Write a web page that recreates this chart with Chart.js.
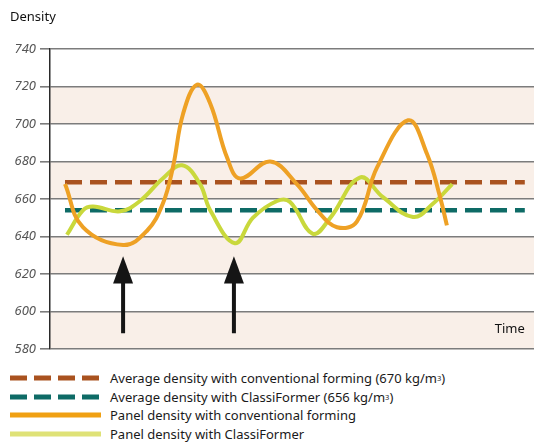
<!DOCTYPE html>
<html>
<head>
<meta charset="utf-8">
<script src="https://cdn.jsdelivr.net/npm/chart.js@4/dist/chart.umd.min.js"></script>
<style>
  html, body { margin: 0; padding: 0; background: #fff; }
  #wrap { position: relative; width: 534px; height: 443px; overflow: hidden; font-family: "Noto Sans", "Open Sans", sans-serif; }
  #chartBox { position: absolute; left: 0; top: 0; width: 534px; height: 361px; }
  #ytitle { position: absolute; left: 10px; top: 7px; font-size: 13px; color: #111; }
  #legend { position: absolute; left: 10px; top: 369px; }
  .row { height: 18.6px; display: flex; align-items: center; font-size: 13px; color: #1a1a1a; white-space: nowrap; }
  .row svg { width: 91px; height: 8px; margin-right: 9px; flex: none; }
  sup { font-size: 7.5px; vertical-align: 5px; }
</style>
</head>
<body>
<div id="wrap">
  <div id="chartBox"><canvas id="c"></canvas></div>
  <div id="ytitle">Density</div>
  <div id="legend">
    <div class="row"><svg><line x1="0" y1="4" x2="91" y2="4" stroke="#a9521f" stroke-width="5" stroke-dasharray="17,7"/></svg>Average density with conventional forming (670 kg/m<sup>3</sup>)</div>
    <div class="row"><svg><line x1="0" y1="4" x2="91" y2="4" stroke="#0e6b66" stroke-width="5" stroke-dasharray="17,7"/></svg>Average density with ClassiFormer (656 kg/m<sup>3</sup>)</div>
    <div class="row"><svg><line x1="0" y1="4" x2="91" y2="4" stroke="#f0a012" stroke-width="5"/></svg>Panel density with conventional forming</div>
    <div class="row"><svg><line x1="0" y1="4" x2="91" y2="4" stroke="#dfe277" stroke-width="5"/></svg>Panel density with ClassiFormer</div>
  </div>
</div>
<script>
// ---- data ----
const yTicks = [580, 600, 620, 640, 660, 680, 700, 720, 740];
const shadedBands = [[700, 720], [660, 680], [620, 640], [580, 600]];

const convTime    = [3.1, 6.8, 15.1, 20.0, 23.3, 25.4, 27.5, 30.4, 33.1, 36.6, 39.3, 45.5, 51.0, 55.2, 59.3, 63.4, 67.6, 74.0, 77.9, 80.6, 82.0];
const convDensity = [668, 645, 635.5, 643, 657.5, 677, 705.5, 721, 711, 682, 671, 680, 668, 654, 645, 648, 677, 702, 684, 661, 646];

const classiTime    = [3.5, 6.8, 8.9, 14.5, 18.6, 23.3, 27.3, 31.0, 33.1, 38.2, 41.9, 46.9, 49.6, 54.3, 57.9, 64.0, 68.8, 75.0, 79.1, 83.1];
const classiDensity = [641, 654, 656, 653.5, 659, 671, 678, 668, 654, 636.5, 650, 659, 658.5, 641.5, 650, 671.5, 661, 650.5, 657.5, 668];

const avgTime = [3.1, 98.1];
const avgConventional = [669, 669];
const avgClassiFormer = [654, 654];

const arrowTimes = [15.1, 38.0];
const arrowTip = 629.5, arrowHeadBase = 615, arrowBottom = 588.5;

const toXY = (xs, ys) => xs.map((x, i) => ({ x, y: ys[i] }));

const bandsPlugin = {
  id: 'bands',
  beforeDraw(chart) {
    const { ctx, chartArea, scales: { y } } = chart;
    ctx.save();
    ctx.fillStyle = '#f9efe8';
    shadedBands.forEach(([lo, hi]) => {
      const top = y.getPixelForValue(hi), bot = y.getPixelForValue(lo);
      ctx.fillRect(chartArea.left, top, chartArea.right - chartArea.left, bot - top);
    });
    ctx.restore();
  }
};

const arrowsPlugin = {
  id: 'arrows',
  afterDatasetsDraw(chart) {
    const { ctx, scales: { x, y } } = chart;
    ctx.save();
    ctx.fillStyle = '#151515';
    ctx.strokeStyle = '#151515';
    arrowTimes.forEach(t => {
      const px = x.getPixelForValue(t);
      const tip = y.getPixelForValue(arrowTip);
      const base = y.getPixelForValue(arrowHeadBase);
      const bot = y.getPixelForValue(arrowBottom);
      ctx.lineWidth = 4;
      ctx.beginPath();
      ctx.moveTo(px, base - 2);
      ctx.lineTo(px, bot);
      ctx.stroke();
      ctx.beginPath();
      ctx.moveTo(px, tip);
      ctx.lineTo(px - 10, base);
      ctx.lineTo(px + 10, base);
      ctx.closePath();
      ctx.fill();
    });
    // "Time" label inside plot area
    ctx.fillStyle = '#111';
    ctx.font = '13px "Noto Sans", sans-serif';
    ctx.textAlign = 'right';
    ctx.textBaseline = 'middle';
    ctx.fillText('Time', x.getPixelForValue(98.1), y.getPixelForValue(590.5));
    ctx.restore();
  }
};

new Chart(document.getElementById('c'), {
  type: 'line',
  data: {
    datasets: [
      { label: 'Average density with conventional forming (670 kg/m³)', data: toXY(avgTime, avgConventional),
        borderColor: '#a9521f', borderWidth: 4.5, borderDash: [17, 8], pointRadius: 0, tension: 0, order: 3 },
      { label: 'Average density with ClassiFormer (656 kg/m³)', data: toXY(avgTime, avgClassiFormer),
        borderColor: '#0e6b66', borderWidth: 4.5, borderDash: [17, 8], pointRadius: 0, tension: 0, order: 4 },
      { label: 'Panel density with ClassiFormer', data: toXY(classiTime, classiDensity),
        borderColor: '#c9d83c', borderWidth: 4, pointRadius: 0, tension: 0.4, order: 2 },
      { label: 'Panel density with conventional forming', data: toXY(convTime, convDensity),
        borderColor: '#eea125', borderWidth: 4, pointRadius: 0, tension: 0.4, order: 1 }
    ]
  },
  options: {
    responsive: true,
    maintainAspectRatio: false,
    animation: false,
    layout: { padding: { top: 49, bottom: 8, left: 0, right: 0 } },
    plugins: { legend: { display: false }, tooltip: { enabled: false } },
    scales: {
      x: { type: 'linear', min: 0, max: 100, display: false },
      y: {
        min: 580, max: 740,
        afterBuildTicks: s => { s.ticks = yTicks.map(v => ({ value: v })); },
        afterFit: s => { s.width = 50; },
        ticks: { color: '#555', font: { family: 'Noto Sans', size: 13, style: 'italic' }, padding: 4 },
        grid: { color: '#7c7c7c', lineWidth: 1.6, tickLength: 10, drawTicks: true },
        border: { display: true, color: '#2a2a2a', width: 1.5 }
      }
    }
  },
  plugins: [bandsPlugin, arrowsPlugin]
});
</script>
</body>
</html>
